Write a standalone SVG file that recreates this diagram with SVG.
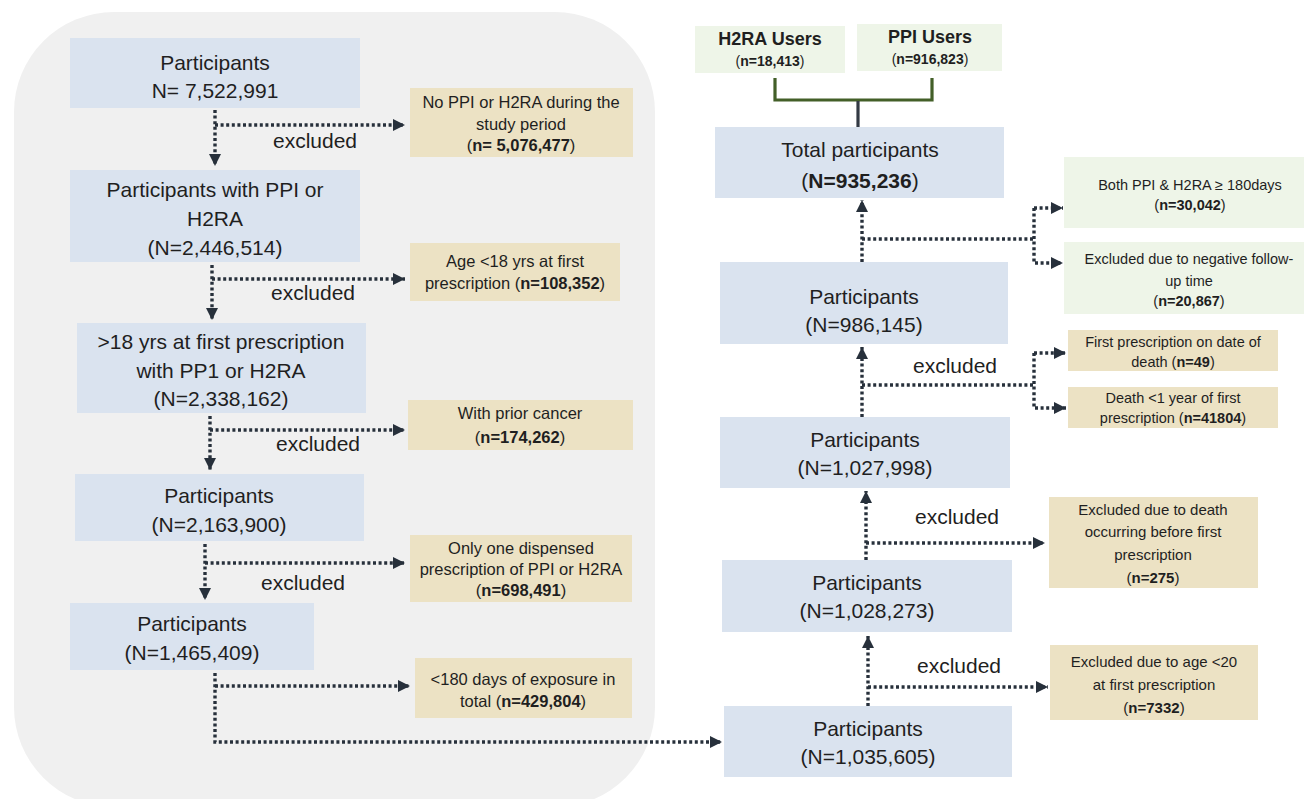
<svg xmlns="http://www.w3.org/2000/svg" width="1304" height="799" viewBox="0 0 1304 799">
<defs>
<marker id="arr" markerUnits="userSpaceOnUse" markerWidth="12" markerHeight="12" refX="10" refY="5" orient="auto" viewBox="0 0 10 10">
<path d="M0,0 L10,5 L0,10 z" fill="#27303b"/>
</marker>
<style>
text{font-family:"Liberation Sans",Arial,sans-serif;fill:#1f1f1f;text-anchor:middle}
.blue{fill:#dae3ef}
.tan{fill:#ece2c4}
.grn{fill:#eef5e8}
.big{font-size:21px}
.sm{font-size:16.5px}
.md{font-size:15px}
.xs{font-size:14.5px}
.lbl{font-size:21px}
.b{font-weight:bold}
.dot{fill:none;stroke:#27303b;stroke-width:3.4;stroke-dasharray:3 2.6}
.arr{marker-end:url(#arr)}
</style>
</defs>
<rect width="1304" height="799" fill="#ffffff"/>
<rect x="14" y="12" width="641" height="795" rx="100" ry="100" fill="#f0f0f0"/>

<g id="connectors">
<path class="dot arr" d="M215,110 V166"/>
<path class="dot arr" d="M215,125 H405"/>
<path class="dot arr" d="M212,265 V320"/>
<path class="dot arr" d="M212,279 H405"/>
<path class="dot arr" d="M210,416 V470"/>
<path class="dot arr" d="M210,430 H405"/>
<path class="dot arr" d="M205,544 V600"/>
<path class="dot arr" d="M205,563 H405"/>
<path class="dot arr" d="M215,673 V742 H722"/>
<path class="dot arr" d="M215,686 H410"/>
<path d="M775,78 V100 H932 V78" fill="none" stroke="#435f28" stroke-width="3.2"/>
<path d="M858,101 V127" fill="none" stroke="#333a44" stroke-width="3.2"/>
<path class="dot arr" d="M862,262 V200"/>
<path class="dot" d="M862,239 H1034"/>
<path class="dot arr" d="M1034,208 V263 H1063"/>
<path class="dot arr" d="M1034,208 H1063"/>
<path class="dot arr" d="M862,417 V347"/>
<path class="dot" d="M862,385 H1034"/>
<path class="dot arr" d="M1034,353 V408 H1066"/>
<path class="dot arr" d="M1034,353 H1066"/>
<path class="dot arr" d="M866,560 V491"/>
<path class="dot arr" d="M866,543 H1045"/>
<path class="dot arr" d="M868,706 V636"/>
<path class="dot arr" d="M868,687 H1048"/>
<text class="lbl" x="315" y="148">excluded</text>
<text class="lbl" x="313" y="300">excluded</text>
<text class="lbl" x="318" y="451">excluded</text>
<text class="lbl" x="303" y="590">excluded</text>
<text class="lbl" x="955" y="373">excluded</text>
<text class="lbl" x="957" y="524">excluded</text>
<text class="lbl" x="959" y="673">excluded</text>
</g>

<g id="n1"><rect class="blue" x="70" y="38" width="290" height="70"/>
<text class="big" x="215" y="70">Participants</text><text class="big" x="215" y="98">N= 7,522,991</text></g>
<g id="n2"><rect class="blue" x="70" y="170" width="290" height="92"/>
<text class="big" x="215" y="197">Participants with PPI or</text><text class="big" x="215" y="226">H2RA</text><text class="big" x="215" y="255">(N=2,446,514)</text></g>
<g id="n3"><rect class="blue" x="77" y="323" width="289" height="90"/>
<text class="big" x="221" y="349">&gt;18 yrs at first prescription</text><text class="big" x="221" y="378">with PP1 or H2RA</text><text class="big" x="221" y="406">(N=2,338,162)</text></g>
<g id="n4"><rect class="blue" x="75" y="474" width="289" height="67"/>
<text class="big" x="219" y="503">Participants</text><text class="big" x="219" y="532">(N=2,163,900)</text></g>
<g id="n5"><rect class="blue" x="70" y="603" width="244" height="67"/>
<text class="big" x="192" y="631">Participants</text><text class="big" x="192" y="660">(N=1,465,409)</text></g>

<g id="e1"><rect class="tan" x="410" y="88" width="223" height="69"/>
<text class="sm" x="521" y="108">No PPI or H2RA during the</text><text class="sm" x="521" y="130">study period</text><text class="sm" x="521" y="151">(<tspan class="b">n= 5,076,477</tspan>)</text></g>
<g id="e2"><rect class="tan" x="410" y="243" width="210" height="58"/>
<text class="sm" x="515" y="267">Age &lt;18 yrs at first</text><text class="sm" x="515" y="289">prescription (<tspan class="b">n=108,352</tspan>)</text></g>
<g id="e3"><rect class="tan" x="408" y="400" width="225" height="50"/>
<text class="sm" x="520" y="419">With prior cancer</text><text class="sm" x="520" y="443">(<tspan class="b">n=174,262</tspan>)</text></g>
<g id="e4"><rect class="tan" x="410" y="535" width="222" height="67"/>
<text class="sm" x="521" y="554">Only one dispensed</text><text class="sm" x="521" y="575">prescription of PPI or H2RA</text><text class="sm" x="521" y="596">(<tspan class="b">n=698,491</tspan>)</text></g>
<g id="e5"><rect class="tan" x="415" y="658" width="217" height="60"/>
<text class="sm" x="523" y="685">&lt;180 days of exposure in</text><text class="sm" x="523" y="707">total (<tspan class="b">n=429,804</tspan>)</text></g>

<g id="h2ra"><rect class="grn" x="695" y="26" width="150" height="47"/>
<text class="b" x="770" y="45" style="font-size:18px">H2RA Users</text><text x="770" y="66" style="font-size:14px">(<tspan class="b">n=18,413</tspan>)</text></g>
<g id="ppi"><rect class="grn" x="857" y="24" width="145" height="47"/>
<text class="b" x="930" y="43" style="font-size:18px">PPI Users</text><text x="930" y="64" style="font-size:14px">(<tspan class="b">n=916,823</tspan>)</text></g>

<g id="r1"><rect class="blue" x="715" y="127" width="289" height="71"/>
<text class="big" x="860" y="157">Total participants</text><text class="big" x="860" y="188">(<tspan class="b">N=935,236</tspan>)</text></g>
<g id="r2"><rect class="blue" x="720" y="262" width="288" height="82"/>
<text class="big" x="864" y="304">Participants</text><text class="big" x="864" y="332">(N=986,145)</text></g>
<g id="r3"><rect class="blue" x="720" y="417" width="290" height="71"/>
<text class="big" x="865" y="447">Participants</text><text class="big" x="865" y="475">(N=1,027,998)</text></g>
<g id="r4"><rect class="blue" x="722" y="560" width="290" height="72"/>
<text class="big" x="867" y="590">Participants</text><text class="big" x="867" y="618">(N=1,028,273)</text></g>
<g id="r5"><rect class="blue" x="724" y="706" width="288" height="71"/>
<text class="big" x="868" y="736">Participants</text><text class="big" x="868" y="764">(N=1,035,605)</text></g>

<g id="g1"><rect class="grn" x="1064" y="157" width="240" height="71"/>
<text class="xs" x="1190" y="190">Both PPI &amp; H2RA ≥ 180days</text><text class="xs" x="1190" y="210">(<tspan class="b">n=30,042</tspan>)</text></g>
<g id="g2"><rect class="grn" x="1064" y="242" width="240" height="72"/>
<text class="xs" x="1189" y="264">Excluded due to negative follow-</text><text class="xs" x="1189" y="286">up time</text><text class="xs" x="1189" y="306">(<tspan class="b">n=20,867</tspan>)</text></g>
<g id="t1"><rect class="tan" x="1068" y="330" width="210" height="41"/>
<text class="xs" x="1173" y="347">First prescription on date of</text><text class="xs" x="1173" y="367">death (<tspan class="b">n=49</tspan>)</text></g>
<g id="t2"><rect class="tan" x="1068" y="387" width="210" height="41"/>
<text class="xs" x="1173" y="403">Death &lt;1 year of first</text><text class="xs" x="1173" y="423">prescription (<tspan class="b">n=41804</tspan>)</text></g>
<g id="t3"><rect class="tan" x="1049" y="497" width="209" height="91"/>
<text class="md" x="1153" y="515">Excluded due to death</text><text class="md" x="1153" y="537">occurring before first</text><text class="md" x="1153" y="560">prescription</text><text class="md" x="1153" y="583">(<tspan class="b">n=275</tspan>)</text></g>
<g id="t4"><rect class="tan" x="1050" y="645" width="208" height="75"/>
<text class="md" x="1154" y="667">Excluded due to age &lt;20</text><text class="md" x="1154" y="690">at first prescription</text><text class="md" x="1154" y="713">(<tspan class="b">n=7332</tspan>)</text></g>
</svg>
